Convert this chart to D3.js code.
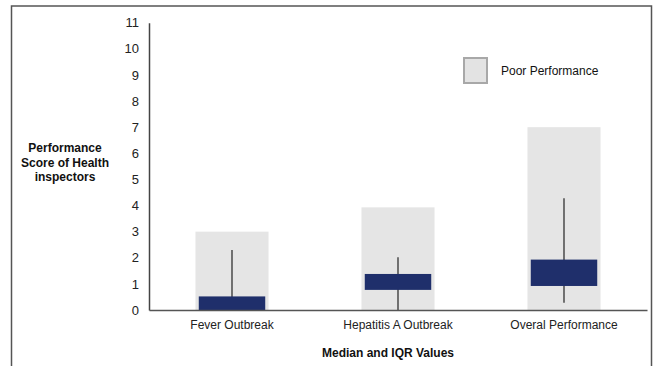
<!DOCTYPE html>
<html>
<head>
<meta charset="utf-8">
<script src="https://cdn.jsdelivr.net/npm/d3@7"></script>
<style>
  body { margin: 0; background: #fff; }
  svg { display: block; font-family: "Liberation Sans", Arial, sans-serif; }
  .tick line { display: none; }
</style>
</head>
<body>
<div id="wrapper"></div>
<script>
// data
const categories = ["Fever Outbreak", "Hepatitis A Outbreak", "Overal Performance"]
const poorPerformance = [3, 3.93, 7]
const q1 = [0, 0.77, 0.92]
const q3 = [0.52, 1.38, 1.93]
const whiskerLow = [0.5, 0, 0.28]
const whiskerHigh = [2.3, 2.02, 4.28]
const yTicks = [0, 1, 2, 3, 4, 5, 6, 7, 8, 9, 10, 11]

const dataset = categories.map((c, i) => ({
  category: c,
  poor: poorPerformance[i],
  q1: q1[i],
  q3: q3[i],
  lo: whiskerLow[i],
  hi: whiskerHigh[i],
}))

const dimensions = {
  width: 657,
  height: 366,
  margin: { top: 22.7, right: 8, bottom: 56, left: 149 },
}
dimensions.boundedWidth = 647 - dimensions.margin.left
dimensions.boundedHeight = 310 - dimensions.margin.top

const wrapper = d3.select("#wrapper").append("svg")
    .attr("width", dimensions.width)
    .attr("height", dimensions.height)

// frame round the figure
wrapper.append("path")
    .attr("d", "M11.5,366 V6 H651.5 V366")
    .attr("fill", "none")
    .attr("stroke", "#555")
    .attr("stroke-width", 1.5)

const bounds = wrapper.append("g")
    .attr("transform", `translate(${dimensions.margin.left},${dimensions.margin.top})`)

const yScale = d3.scaleLinear()
  .domain([0, 11])
  .range([dimensions.boundedHeight, 0])

const xScale = d3.scaleBand()
  .domain(categories)
  .range([0, dimensions.boundedWidth])
  .paddingInner(0.56)
  .paddingOuter(0.28)

const bw = xScale.bandwidth()
const boxW = bw * 0.91

// grey "poor performance" bars
bounds.selectAll(".poor")
  .data(dataset)
  .enter().append("rect")
    .attr("class", "poor")
    .attr("x", d => xScale(d.category))
    .attr("y", d => yScale(d.poor))
    .attr("width", bw)
    .attr("height", d => yScale(0) - yScale(d.poor))
    .attr("fill", "#e5e5e5")

// whiskers
bounds.selectAll(".whisker")
  .data(dataset)
  .enter().append("line")
    .attr("class", "whisker")
    .attr("x1", d => xScale(d.category) + bw / 2)
    .attr("x2", d => xScale(d.category) + bw / 2)
    .attr("y1", d => yScale(d.lo))
    .attr("y2", d => yScale(d.hi))
    .attr("stroke", "#222")
    .attr("stroke-width", 1.2)

// IQR boxes
bounds.selectAll(".box")
  .data(dataset)
  .enter().append("rect")
    .attr("class", "box")
    .attr("x", d => xScale(d.category) + (bw - boxW) / 2)
    .attr("y", d => yScale(d.q3))
    .attr("width", boxW)
    .attr("height", d => yScale(d.q1) - yScale(d.q3))
    .attr("fill", "#1f2f6b")

// axes
const yAxis = bounds.append("g")
  .call(d3.axisLeft(yScale).tickValues(yTicks).tickSize(0).tickPadding(10))
yAxis.select(".domain").attr("stroke", "#444").attr("stroke-width", 1.5)
yAxis.selectAll("text")
    .attr("font-size", 13)
    .attr("fill", "#222")
    .attr("font-family", "Liberation Sans, Arial, sans-serif")

const xAxis = bounds.append("g")
    .attr("transform", `translate(0,${dimensions.boundedHeight})`)
  .call(d3.axisBottom(xScale).tickSize(0).tickPadding(10).tickSizeOuter(0))
xAxis.select(".domain").attr("stroke", "#555").attr("stroke-width", 1.5)
xAxis.selectAll("text")
    .attr("font-size", 12)
    .attr("fill", "#222")
    .attr("font-family", "Liberation Sans, Arial, sans-serif")

// axis titles
wrapper.append("text")
    .attr("x", 388)
    .attr("y", 357)
    .attr("text-anchor", "middle")
    .attr("font-size", 12)
    .attr("font-weight", "bold")
    .attr("fill", "#111")
    .text("Median and IQR Values")

const yTitle = wrapper.append("text")
    .attr("text-anchor", "middle")
    .attr("font-size", 12)
    .attr("font-weight", "bold")
    .attr("fill", "#111")
yTitle.selectAll("tspan")
  .data(["Performance", "Score of Health", "inspectors"])
  .enter().append("tspan")
    .attr("x", 65)
    .attr("y", (d, i) => 152 + i * 14.5)
    .text(d => d)

// legend
const legend = wrapper.append("g").attr("transform", "translate(463,57)")
legend.append("rect")
    .attr("x", 1).attr("y", 1)
    .attr("width", 23).attr("height", 25)
    .attr("fill", "#e3e3e3")
    .attr("stroke", "#a8a8a8")
    .attr("stroke-width", 2)
legend.append("text")
    .attr("x", 38)
    .attr("y", 18)
    .attr("font-size", 12)
    .attr("fill", "#111")
    .text("Poor Performance")
</script>
</body>
</html>
